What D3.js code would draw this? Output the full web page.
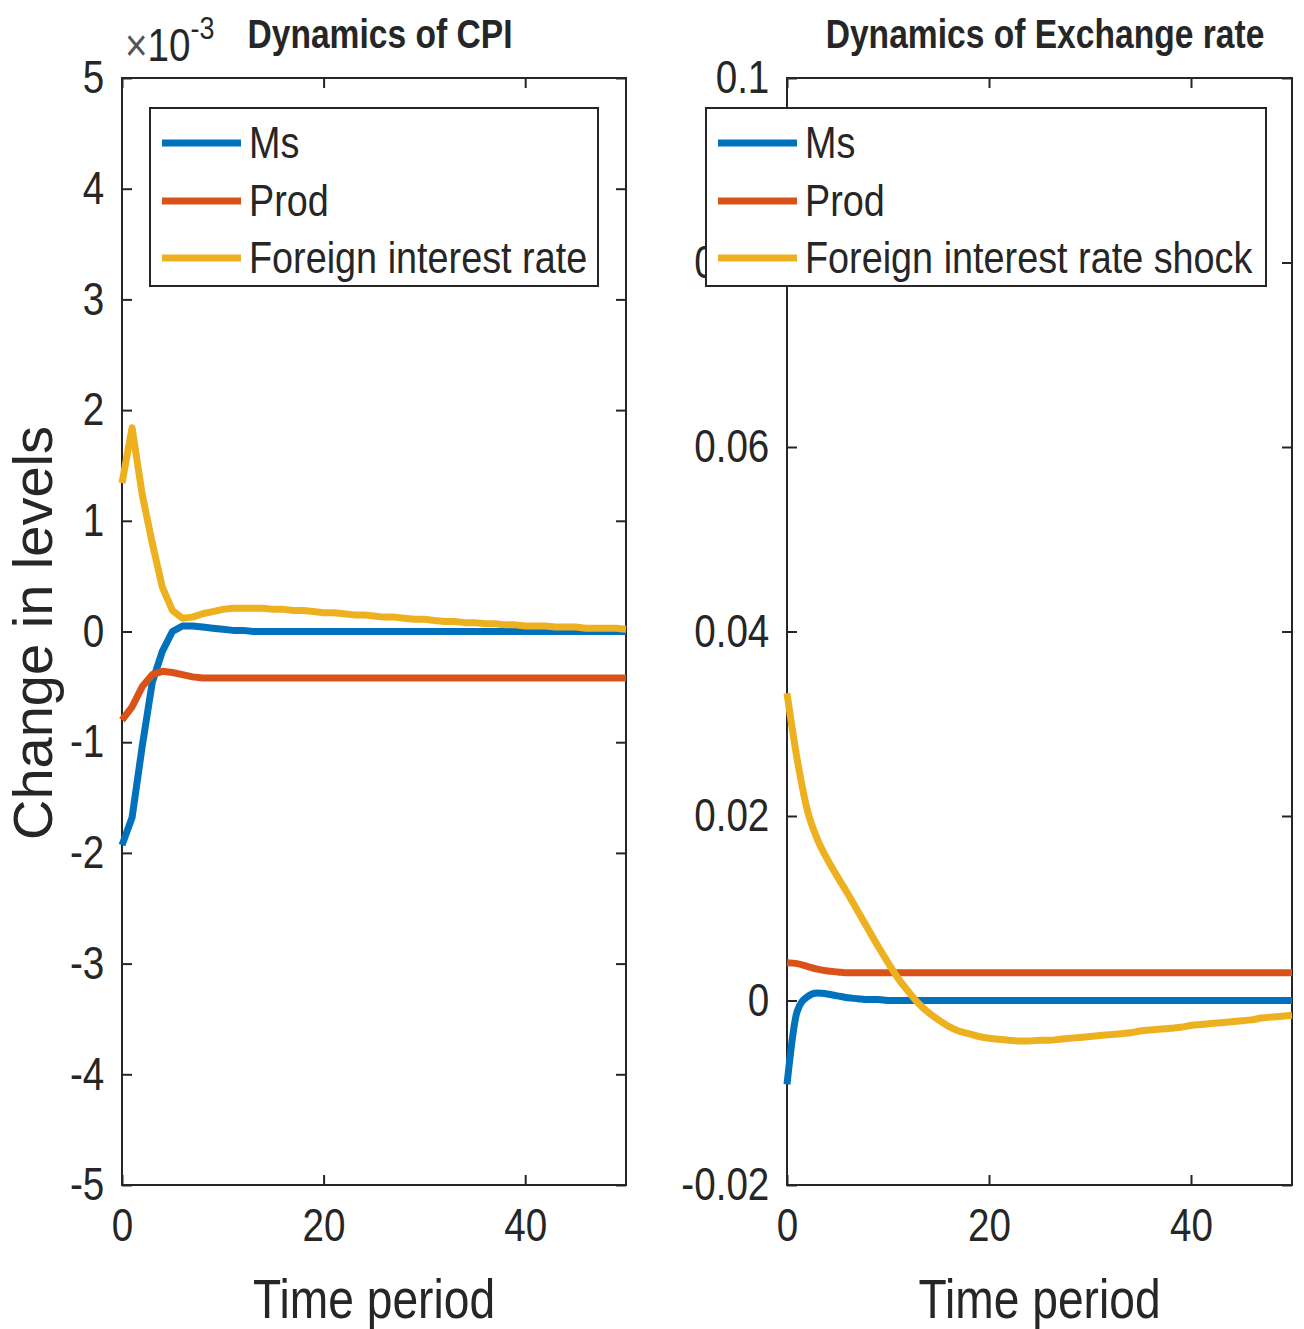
<!DOCTYPE html>
<html><head><meta charset="utf-8">
<script src="https://cdn.jsdelivr.net/npm/d3@7"></script>
<style>body{margin:0;background:#fff}</style>
</head><body><svg id="c" width="1304" height="1329"></svg>
<script>
// ---------- data ----------
const xTicks = [0, 20, 40];
const xTickLabels = ["0", "20", "40"];

const cpiYTicks = [-5,-4,-3,-2,-1,0,1,2,3,4,5];
const cpiYTickLabels = ["-5","-4","-3","-2","-1","0","1","2","3","4","5"];
const exYTicks = [-0.02, 0, 0.02, 0.04, 0.06, 0.08, 0.1];
const exYTickLabels = ["-0.02","0","0.02","0.04","0.06","0.08","0.1"];

const cpiLegend = ["Ms", "Prod", "Foreign interest rate"];
const exLegend = ["Ms", "Prod", "Foreign interest rate shock"];

// CPI responses (units of 1e-3), t = 0..50
const cpiMs = [
 -1.93,-1.68,-1.04,-0.46,-0.18, 0.00, 0.05, 0.05, 0.04, 0.03,
  0.02, 0.01, 0.01, 0.00, 0.00, 0.00, 0.00, 0.00, 0.00, 0.00,
  0.00, 0.00, 0.00, 0.00, 0.00, 0.00, 0.00, 0.00, 0.00, 0.00,
  0.00, 0.00, 0.00, 0.00, 0.00, 0.00, 0.00, 0.00, 0.00, 0.00,
  0.00, 0.00, 0.00, 0.00, 0.00, 0.00, 0.00, 0.00, 0.00, 0.00,
  0.00
];
const cpiProd = [
 -0.80,-0.68,-0.50,-0.39,-0.36,-0.37,-0.39,-0.41,-0.42,-0.42,
 -0.42,-0.42,-0.42,-0.42,-0.42,-0.42,-0.42,-0.42,-0.42,-0.42,
 -0.42,-0.42,-0.42,-0.42,-0.42,-0.42,-0.42,-0.42,-0.42,-0.42,
 -0.42,-0.42,-0.42,-0.42,-0.42,-0.42,-0.42,-0.42,-0.42,-0.42,
 -0.42,-0.42,-0.42,-0.42,-0.42,-0.42,-0.42,-0.42,-0.42,-0.42,
 -0.42
];
const cpiForeign = [
  1.34, 1.84, 1.24, 0.80, 0.40, 0.19, 0.12, 0.13, 0.16, 0.18,
  0.20, 0.21, 0.21, 0.21, 0.21, 0.20, 0.20, 0.19, 0.19, 0.18,
  0.17, 0.17, 0.16, 0.15, 0.15, 0.14, 0.13, 0.13, 0.12, 0.11,
  0.11, 0.10, 0.09, 0.09, 0.08, 0.08, 0.07, 0.07, 0.06, 0.06,
  0.05, 0.05, 0.05, 0.04, 0.04, 0.04, 0.03, 0.03, 0.03, 0.03,
  0.02
];

// Exchange-rate responses, t = 0..50
const exMs = [
 -0.0091,-0.0012, 0.0004, 0.0008, 0.0007, 0.0005, 0.0003, 0.0002, 0.0001, 0.0001,
  0, 0, 0, 0, 0, 0, 0, 0, 0, 0,
  0, 0, 0, 0, 0, 0, 0, 0, 0, 0,
  0, 0, 0, 0, 0, 0, 0, 0, 0, 0,
  0, 0, 0, 0, 0, 0, 0, 0, 0, 0,
  0
];
const exProd = [
  0.0041, 0.0040, 0.0037, 0.0034, 0.0032, 0.0031, 0.0030, 0.0030, 0.0030, 0.0030,
  0.0030, 0.0030, 0.0030, 0.0030, 0.0030, 0.0030, 0.0030, 0.0030, 0.0030, 0.0030,
  0.0030, 0.0030, 0.0030, 0.0030, 0.0030, 0.0030, 0.0030, 0.0030, 0.0030, 0.0030,
  0.0030, 0.0030, 0.0030, 0.0030, 0.0030, 0.0030, 0.0030, 0.0030, 0.0030, 0.0030,
  0.0030, 0.0030, 0.0030, 0.0030, 0.0030, 0.0030, 0.0030, 0.0030, 0.0030, 0.0030,
  0.0030
];
const exForeign = [
  0.0333, 0.0262, 0.0207, 0.0175, 0.0153, 0.0134, 0.0116, 0.0097, 0.0078, 0.0059,
  0.0041, 0.0024, 0.0010,-0.0003,-0.0013,-0.0021,-0.0028,-0.0033,-0.0036,-0.0039,
 -0.0041,-0.0042,-0.0043,-0.0044,-0.0044,-0.0043,-0.0043,-0.0042,-0.0041,-0.0040,
 -0.0039,-0.0038,-0.0037,-0.0036,-0.0035,-0.0033,-0.0032,-0.0031,-0.0030,-0.0029,
 -0.0027,-0.0026,-0.0025,-0.0024,-0.0023,-0.0022,-0.0021,-0.0019,-0.0018,-0.0017,
 -0.0016
];

// ---------- drawing ----------
const svg = d3.select("#c");
const FONT = "'Liberation Sans', Arial, Helvetica, sans-serif";
const SX = 0.84;            // horizontal text compression seen in the reference
const ink = "#262626";
const colors = ["#0072BD", "#D95319", "#EDB120"];

function hText(parent, x, y, str, size, opts = {}) {
  const g = parent.append("g").attr("transform", `translate(${x},${y}) scale(${SX},1)`);
  return g.append("text")
    .attr("font-family", FONT).attr("font-size", size)
    .attr("font-weight", opts.bold ? "bold" : "normal")
    .attr("text-anchor", opts.anchor || "start")
    .attr("fill", ink).text(str);
}

function panel(cfg) {
  const x = d3.scaleLinear().domain([0, 50]).range([cfg.left, cfg.right]);
  const y = d3.scaleLinear().domain(cfg.yDomain).range([cfg.bottom, cfg.top]);
  const g = svg.append("g");

  const styleAxis = sel => {
    sel.select(".domain").remove();
    sel.selectAll(".tick line").attr("stroke", ink).attr("stroke-width", 2);
    sel.selectAll(".tick text").attr("fill", ink).attr("font-family", FONT)
      .attr("font-size", 46).attr("transform", `scale(${SX},1)`);
  };

  g.append("g").attr("transform", `translate(${cfg.left},0)`)
    .call(d3.axisLeft(y).tickValues(cfg.yTicks).tickFormat((d, i) => cfg.yTickLabels[i])
      .tickSizeInner(-10).tickSizeOuter(0).tickPadding(21))
    .call(styleAxis);
  g.append("g").attr("transform", `translate(${cfg.right},0)`)
    .call(d3.axisRight(y).tickValues(cfg.yTicks).tickFormat("").tickSizeInner(-10).tickSizeOuter(0))
    .call(styleAxis);
  g.append("g").attr("transform", `translate(0,${cfg.bottom})`)
    .call(d3.axisBottom(x).tickValues(xTicks).tickFormat((d, i) => xTickLabels[i])
      .tickSizeInner(-10).tickSizeOuter(0).tickPadding(23))
    .call(styleAxis);
  g.append("g").attr("transform", `translate(0,${cfg.top})`)
    .call(d3.axisTop(x).tickValues(xTicks).tickFormat("").tickSizeInner(-10).tickSizeOuter(0))
    .call(styleAxis);

  g.append("rect").attr("x", cfg.left).attr("y", cfg.top)
    .attr("width", cfg.right - cfg.left).attr("height", cfg.bottom - cfg.top)
    .attr("fill", "none").attr("stroke", ink).attr("stroke-width", 2);

  const line = d3.line().curve(cfg.curve).x((d, i) => x(i)).y(d => y(d));
  cfg.series.forEach((s, k) => {
    g.append("path").attr("d", line(s)).attr("fill", "none")
      .attr("stroke", colors[k]).attr("stroke-width", 7)
      .attr("stroke-linejoin", "round").attr("stroke-linecap", "butt");
  });

  // title
  hText(g, cfg.titleX, 48, cfg.title, 40, { bold: true, anchor: "middle" });
  // x label
  hText(g, (cfg.left + cfg.right) / 2, 1318, "Time period", 55, { anchor: "middle" });

  // legend
  const lg = g.append("g");
  lg.append("rect").attr("x", cfg.legX).attr("y", 108).attr("width", cfg.legW).attr("height", 178)
    .attr("fill", "#fff").attr("stroke", ink).attr("stroke-width", 2);
  const rows = [143, 201, 258];
  cfg.legend.forEach((name, k) => {
    lg.append("line").attr("x1", cfg.legX + 12).attr("x2", cfg.legX + 91)
      .attr("y1", rows[k]).attr("y2", rows[k])
      .attr("stroke", colors[k]).attr("stroke-width", 7);
    hText(lg, cfg.legX + 99, rows[k] + 15, name, 45);
  });
  return g;
}

panel({
  left: 122, right: 626, top: 78, bottom: 1185,
  yDomain: [-5, 5], yTicks: cpiYTicks, yTickLabels: cpiYTickLabels,
  series: [cpiMs, cpiProd, cpiForeign], curve: d3.curveLinear,
  title: "Dynamics of CPI", titleX: 380,
  legend: cpiLegend, legX: 150, legW: 448
});
panel({
  left: 787, right: 1292, top: 78, bottom: 1185,
  yDomain: [-0.02, 0.1], yTicks: exYTicks, yTickLabels: exYTickLabels,
  series: [exMs, exProd, exForeign], curve: d3.curveMonotoneX,
  title: "Dynamics of Exchange rate", titleX: 1045,
  legend: exLegend, legX: 706, legW: 560
});

// exponent label
const ex = svg.append("g").attr("transform", `translate(125,61) scale(${SX},1)`)
  .append("text").attr("font-family", FONT).attr("font-size", 46).attr("fill", ink);
ex.append("tspan").attr("fill", "#555").text("\u00D7");
ex.append("tspan").text("10");
ex.append("tspan").attr("font-size", 32).attr("dy", -22).text("-3");

// y label
svg.append("text")
  .attr("transform", "translate(52,633) rotate(-90)")
  .attr("text-anchor", "middle").attr("font-family", FONT).attr("font-size", 56)
  .attr("fill", ink).text("Change in levels");
</script>
</body></html>
